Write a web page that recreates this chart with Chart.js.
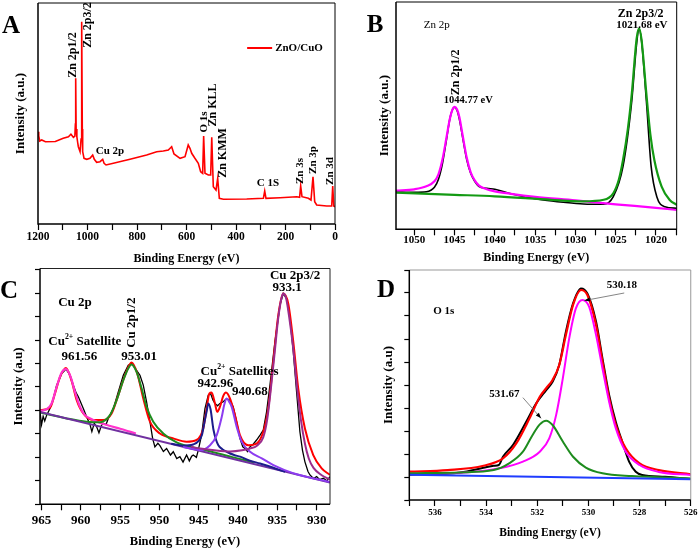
<!DOCTYPE html>
<html>
<head>
<meta charset="utf-8">
<script src="https://cdn.jsdelivr.net/npm/chart.js@4.4.1/dist/chart.umd.min.js"></script>
<style>
  body { margin: 0; background: #fff; }
  #wrap { position: relative; width: 700px; height: 550px; overflow: hidden; }
  canvas { position: absolute; }
</style>
</head>
<body>
<div id="wrap">
  <canvas id="panelA" width="350" height="275" style="left:0;top:0"></canvas>
  <canvas id="panelB" width="350" height="275" style="left:350px;top:0"></canvas>
  <canvas id="panelC" width="350" height="288" style="left:0;top:262px"></canvas>
  <canvas id="panelD" width="350" height="288" style="left:350px;top:262px"></canvas>
</div>
<script>
// ---- A: survey spectrum
const aEnergy = [1200, 1197, 1193, 1185, 1170, 1130, 1098, 1077, 1067, 1057, 1051, 1049, 1047.7, 1046, 1043, 1040, 1037, 1030, 1026, 1023.5,
  1021, 1019.5, 1014, 1003, 990, 979, 972.5, 963, 949.5, 938.6, 933, 925, 895.6, 828.3, 761, 720.4, 693.7, 673.5, 660, 650.5,
  626, 606, 593, 586, 579, 566, 552.3, 542.8, 534.7, 530.7, 525.3, 511.8, 502.3, 498, 491.7, 480.8, 474, 467.4, 451, 356.7,
  289.4, 284, 278.8, 222, 154.7, 143, 138.7, 133.4, 107.8, 97, 88.9, 82, 74, 33.5, 13.3, 9.2, 5, 0];
const aCounts = [92.3, 88, 83, 84, 82.3, 82.5, 85.7, 87.3, 89.7, 86.7, 88, 100, 145.7, 95, 87.3, 82, 77.3, 72.3, 85, 202.3,
  95, 72.3, 65.7, 64.7, 65.7, 69, 64.7, 61.7, 62.3, 64.7, 60.7, 59, 60.7, 64.7, 69, 72.3, 73, 74, 77.3, 70,
  65.7, 67.3, 79, 75.7, 70.7, 65.7, 60.7, 52.3, 50.7, 88, 50.7, 49, 49, 86.7, 37.3, 34, 45.7, 25.7, 24.7, 25,
  25.7, 33, 25.7, 26.3, 27.3, 26.7, 38, 27.3, 25.7, 24, 47.3, 22.3, 19, 18, 18, 38, 18, 17.3];

// ---- B: Zn 2p
const bDataE = [1052.27, 1050, 1048.5, 1047.5, 1047, 1046.5, 1046, 1045.6, 1045.3, 1045, 1044.7, 1044.4, 1044, 1043.5, 1043, 1042.5, 1042, 1041,
  1040, 1038, 1036, 1034, 1031.5, 1029, 1026.5, 1025.3, 1024.1, 1023, 1022.4, 1022.1, 1021.8, 1021.2, 1020.6, 1019.9, 1018.9, 1017.4];
const bDataI = [37.6, 37, 37.5, 42, 50, 66, 90, 110, 119, 122, 119, 110, 92, 70, 56, 48, 43, 41,
  40, 35.5, 32, 29.3, 27, 25.3, 25, 32.6, 62.6, 129, 186, 200, 189, 129, 62.6, 32.6, 22.6, 21];
const bP1E = [1052.27, 1050, 1048.5, 1047.5, 1047, 1046.5, 1046, 1045.6, 1045.3, 1045, 1044.7, 1044.4, 1044, 1043.5, 1043, 1042.5, 1042, 1041,
  1040, 1038, 1035, 1030, 1025, 1020, 1017.4];
const bP1I = [38.6, 40, 43, 48, 55, 70, 92, 110, 119, 122.5, 120, 112, 94, 72, 57, 49, 44, 40,
  38, 35.5, 32.5, 29, 25, 21.5, 19.3];
const bP2E = [1052.27, 1045, 1040, 1033, 1029, 1026.5, 1025.3, 1024.6, 1024.1, 1023.5, 1023, 1022.4, 1022.1, 1021.8, 1021.2, 1020.7, 1020.2,
  1019.3, 1018.3, 1017.4];
const bP2I = [36.6, 34.5, 33, 29.5, 28, 29.5, 36, 50, 69, 100, 136, 191, 201, 190, 136, 95, 69, 42.6, 29.3, 24.3];

// ---- C: Cu 2p
const cDataE = [965.2, 965.0, 964.8, 964.6, 964.35, 963.93, 963.5, 963.08, 962.7, 962.44, 961.89, 961.38, 960.96, 960.6, 960.32, 959.69, 959.18,
  958.84, 958.6, 958.3, 957.99, 957.7, 957.4, 957.15, 956.8, 956.51, 955.87, 955.24, 954.6, 953.97, 953.54, 952.91, 952.48, 952.06, 951.64,
  951.21, 950.87, 950.58, 950.2, 949.94, 949.5, 949.09, 948.6, 948.24, 947.8, 947.4, 947.0, 946.55, 946.2, 945.9, 945.7, 945.3, 945.06,
  944.64, 944.21, 943.79, 943.49, 943.2, 942.94, 942.6, 942.31, 941.88, 941.46, 941.03, 940.61, 940.18, 939.76, 939.4, 939.12, 938.8,
  938.49, 938.1, 937.64, 937.2, 936.79, 936.37, 935.94, 935.31, 934.67, 934.25, 933.82, 933.4, 932.97, 932.55, 932.13, 931.8, 931.49,
  931.1, 930.85, 930.4, 930.0, 929.6, 929.15, 928.7, 928.3];
const cDataI = [3.94, 3.40, 3.75, 3.55, 3.80, 4.08, 4.51, 5.08, 5.35, 5.57, 5.76, 5.50, 5.08, 4.75, 4.58, 4.08, 3.66,
  3.40, 3.10, 3.45, 3.30, 3.05, 3.35, 3.45, 3.40, 3.66, 4.08, 4.79, 5.50, 5.93, 6.00, 5.71, 5.50, 5.08, 4.37,
  3.52, 2.81, 2.45, 2.60, 2.50, 2.25, 2.38, 2.10, 2.24, 1.95, 2.03, 1.80, 2.10, 1.85, 2.05, 2.10, 2.00, 2.31,
  2.95, 4.08, 4.65, 4.72, 4.45, 4.30, 4.20, 4.30, 4.37, 4.51, 4.44, 4.15, 3.52, 2.81, 2.45, 2.38, 2.25,
  2.45, 2.55, 2.74, 2.95, 3.16, 3.94, 5.08, 6.92, 8.48, 8.98, 8.76, 7.91, 6.49, 4.79, 3.09, 2.30, 1.81,
  1.40, 1.25, 1.10, 1.18, 1.05, 1.11, 1.00, 1.18];
const cEnvE = [965.2, 963.93, 963.29, 962.65, 961.89, 961.17, 960.53, 959.69, 958.42, 957.15, 956.09, 955.24, 954.39, 953.54, 952.82, 952.06,
  951.21, 949.94, 948.24, 946.55, 945.28, 944.43, 944.0, 943.66, 943.37, 942.94, 942.65, 942.31, 941.88, 941.54, 941.03, 940.39, 939.76,
  938.7, 937.64, 936.79, 936.16, 935.52, 934.88, 934.25, 933.61, 932.97, 932.34, 931.49, 930.43, 929.36, 928.3];
const cEnvI = [4.01, 4.11, 4.72, 5.43, 5.81, 5.25, 4.44, 3.87, 3.59, 3.59, 3.87, 4.65, 5.50, 6.04, 5.57, 4.51,
  3.52, 3.02, 2.81, 2.67, 2.74, 3.23, 4.08, 4.72, 4.76, 4.30, 3.94, 4.15, 4.62, 4.76, 4.51, 3.80, 2.95,
  2.52, 2.59, 3.09, 4.08, 6.07, 8.06, 8.98, 8.55, 6.92, 4.93, 3.23, 2.10, 1.53, 1.25];
const cSatAE = [965.2, 964.35, 963.72, 963.08, 962.44, 961.89, 961.3, 960.75, 960.11, 959.48, 958.63, 957.78, 956.5, 955, 953];
const cSatAI = [3.97, 4.06, 4.30, 5.01, 5.62, 5.76, 5.43, 4.79, 4.15, 3.80, 3.63, 3.50, 3.36, 3.22, 3.02];
const cP12E = [965.2, 961.8, 959.27, 957.57, 956.3, 955.45, 954.6, 953.97, 953.54, 952.91, 952.27, 951.64, 950.79, 949.52, 947.82, 945.7,
  943.15, 940.61, 938];
const cP12I = [3.91, 3.66, 3.52, 3.50, 3.80, 4.44, 5.29, 5.79, 5.96, 5.64, 4.94, 4.15, 3.52, 3.02, 2.64, 2.42, 2.22, 2.00, 1.78];
const cSatBE = [948.5, 947.0, 945.7, 945.0, 944.6, 944.3, 944.0, 943.78, 943.5, 943.14, 942.8, 942.51, 942.0, 941.44, 940.5, 939.75, 938.5,
  937.2, 935.5, 934];
const cSatBI = [2.58, 2.50, 2.55, 2.70, 2.95, 3.45, 3.95, 4.30, 4.05, 3.20, 2.75, 2.52, 2.35, 2.24, 2.10, 2.03, 1.86, 1.74, 1.56, 1.38];
const cSatCE = [947, 945.5, 944.84, 943.56, 942.71, 942.07, 941.75, 941.44, 941.1, 940.81, 940.17, 939.53, 938.47, 936.98, 935.5, 933, 928.3];
const cSatCI = [2.44, 2.35, 2.31, 2.52, 2.95, 3.73, 4.25, 4.51, 4.35, 4.15, 3.30, 2.66, 2.24, 1.96, 1.67, 1.33, 0.95];
const cP32E = [946, 944.8, 943, 941, 939.5, 938.5, 937.6, 936.8, 936.3, 935.8, 935.3, 934.9, 934.5, 934.25, 933.9, 933.5, 933.0, 932.5,
  932.0, 931.5, 931.0, 930.4, 929.4, 928.3];
const cP32I = [2.45, 2.38, 2.30, 2.25, 2.30, 2.38, 2.50, 2.85, 3.6, 5.0, 6.6, 7.9, 8.75, 8.98, 8.8, 8.0, 6.7, 5.0,
  3.6, 2.6, 1.95, 1.55, 1.25, 1.05];
const cBaseE = [965.2, 928.3];
const cBaseI = [3.94, 0.93];

// ---- D: O 1s
const dDataE = [537, 535, 534.1, 533.7, 533.5, 533.34, 532.95, 532.43, 532.04, 531.65, 531.4, 531.14, 530.88, 530.6, 530.29, 530.04,
  529.7, 529.45, 529.19, 528.93, 528.68, 528.41, 528.15, 527.9, 527, 526];
const dDataI = [1.1, 1.2, 1.4, 1.49, 1.52, 1.88, 2.39, 3.4, 4.2, 4.78, 5.14, 5.87, 7.32, 8.55, 9.2, 8.98,
  7.75, 6.16, 4.57, 3.4, 2.54, 1.67, 1.23, 1.09, 1.01, 0.91];
const dEnvE = [537, 535.5, 534.1, 533.34, 532.82, 532.3, 531.9, 531.65, 531.4, 531.14, 530.88, 530.6, 530.29, 530.04, 529.7, 529.45,
  529.19, 528.93, 528.54, 528.0, 527.25, 526];
const dEnvI = [1.23, 1.3, 1.49, 1.81, 2.46, 3.55, 4.49, 4.86, 5.22, 5.87, 7.17, 8.48, 9.13, 8.91, 7.6, 6.01,
  4.42, 3.26, 2.25, 1.59, 1.30, 1.12];
const dLatE = [537, 535, 533.47, 532.56, 531.9, 531.53, 531.26, 531.0, 530.75, 530.49, 530.23, 529.97, 529.7, 529.45, 529.19, 528.93,
  528.54, 528.0, 527.25, 526];
const dLatI = [1.13, 1.18, 1.38, 1.67, 2.1, 2.68, 3.7, 5.29, 7.03, 8.33, 8.7, 8.4, 7.17, 5.72, 4.27, 3.12, 2.1, 1.52, 1.22, 1.09];
const dOhE = [537, 535, 533.7, 533.1, 532.56, 532.18, 531.9, 531.65, 531.4, 531.0, 530.6, 530.1, 529.45, 528.3, 526];
const dOhI = [1.16, 1.2, 1.30, 1.59, 2.1, 2.83, 3.29, 3.45, 3.26, 2.54, 1.88, 1.41, 1.16, 1.04, 0.94];
const dBaseE = [537, 526];
const dBaseI = [1.1, 0.9];

const SERIF = '"Liberation Serif", "Times New Roman", serif';
Chart.defaults.font.family = SERIF;
Chart.defaults.color = '#000';

const pts = (xs, ys) => xs.map((x, i) => ({ x, y: ys[i] }));

function line(xs, ys, color, width, order, smooth) {
  return {
    data: pts(xs, ys), borderColor: color, borderWidth: width, order,
    pointRadius: 0, fill: false,
    cubicInterpolationMode: smooth ? 'monotone' : 'default', tension: 0
  };
}

function drawLabel(ctx, sx, sy, t) {
  const font = s => (t.normal ? '' : 'bold ') + s + 'px ' + SERIF;
  ctx.save();
  ctx.translate(sx.getPixelForValue(t.x), sy.getPixelForValue(t.y));
  if (t.rot) ctx.rotate(-Math.PI / 2);
  ctx.textBaseline = 'middle';
  ctx.textAlign = 'left';
  const parts = [[t.text, t.size, 0]];
  if (t.sup) parts.push([t.sup, t.size * 0.6, -t.size * 0.38], [t.after, t.size, 0]);
  let w = 0;
  parts.forEach(p => { ctx.font = font(p[1]); p.push(ctx.measureText(p[0]).width); w += p[3]; });
  let cx = -w / 2;
  parts.forEach(p => { ctx.font = font(p[1]); ctx.fillText(p[0], cx, p[2]); cx += p[3]; });
  ctx.restore();
}

const annot = {
  id: 'annot',
  afterDraw(chart, args, opts) {
    const { ctx, chartArea: a } = chart;
    const sx = chart.scales.x, sy = chart.scales.y;
    ctx.save();
    ctx.lineWidth = 1;
    ctx.strokeStyle = opts.frameColor;
    ctx.beginPath();
    ctx.moveTo(a.left, a.top); ctx.lineTo(a.right, a.top); ctx.lineTo(a.right, a.bottom);
    ctx.stroke();
    ctx.lineWidth = 1.5;
    ctx.strokeStyle = '#000';
    ctx.beginPath();
    ctx.moveTo(a.left, a.top); ctx.lineTo(a.left, a.bottom); ctx.lineTo(a.right, a.bottom);
    ctx.stroke();

    ctx.fillStyle = '#000';
    ctx.font = 'bold 25px ' + SERIF;
    ctx.textAlign = 'center';
    ctx.textBaseline = 'middle';
    ctx.fillText(opts.letter[0], opts.letter[1], opts.letter[2]);

    (opts.labels || []).forEach(t => drawLabel(ctx, sx, sy, t));

    (opts.arrows || []).forEach(r => {
      const x1 = sx.getPixelForValue(r.x1), y1 = sy.getPixelForValue(r.y1);
      const x2 = sx.getPixelForValue(r.x2), y2 = sy.getPixelForValue(r.y2);
      const ang = Math.atan2(y2 - y1, x2 - x1);
      ctx.strokeStyle = '#666';
      ctx.lineWidth = 0.8;
      ctx.beginPath(); ctx.moveTo(x1, y1); ctx.lineTo(x2, y2); ctx.stroke();
      ctx.fillStyle = '#000';
      ctx.beginPath();
      ctx.moveTo(x2, y2);
      ctx.lineTo(x2 - 6 * Math.cos(ang - 0.35), y2 - 6 * Math.sin(ang - 0.35));
      ctx.lineTo(x2 - 6 * Math.cos(ang + 0.35), y2 - 6 * Math.sin(ang + 0.35));
      ctx.closePath(); ctx.fill();
    });

    if (opts.legend) {
      const g = opts.legend;
      const x1 = sx.getPixelForValue(g.x1), x2 = sx.getPixelForValue(g.x2), y = sy.getPixelForValue(g.y);
      ctx.strokeStyle = g.color; ctx.lineWidth = 2;
      ctx.beginPath(); ctx.moveTo(x1, y); ctx.lineTo(x2, y); ctx.stroke();
      ctx.fillStyle = '#000';
      ctx.font = 'bold 11px ' + SERIF;
      ctx.textAlign = 'left';
      ctx.fillText(g.text, x2 + 3, y);
    }
    ctx.restore();
  }
};

function xAxis(min, max, step, labelStep, tickSize, tickPad, titleSize, titlePad, height) {
  return {
    type: 'linear', reverse: true, min, max,
    afterFit: s => { s.height = height; },
    border: { display: false },
    grid: { drawOnChartArea: false, drawTicks: true, tickLength: 6, tickColor: '#000', tickWidth: 1.2 },
    ticks: {
      stepSize: step, autoSkip: false, maxRotation: 0, includeBounds: false, padding: tickPad,
      font: { size: tickSize, weight: 'bold', lineHeight: 1 },
      callback: v => {
        const r = Math.round(v * 100) / 100;
        return Math.abs(r / labelStep - Math.round(r / labelStep)) < 1e-6 ? String(r) : '';
      }
    },
    title: { display: true, text: 'Binding Energy (eV)', font: { size: titleSize, weight: 'bold', lineHeight: 1 }, padding: { top: 0, bottom: titlePad } }
  };
}

function yAxis(max, width, text, titlePad, showTicks) {
  return {
    type: 'linear', min: 0, max,
    afterFit: s => { s.width = width; },
    border: { display: false },
    grid: { display: showTicks, drawOnChartArea: false, drawTicks: true, tickLength: 5, tickColor: '#000', tickWidth: 1.2 },
    ticks: { display: false, stepSize: 1, includeBounds: false },
    title: { display: true, text, font: { size: 13, weight: 'bold', lineHeight: 1 }, padding: { top: titlePad, bottom: 0 } }
  };
}

const common = {
  responsive: false, animation: false,
  plugins: { legend: { display: false }, tooltip: { enabled: false } }
};

new Chart(document.getElementById('panelA'), {
  type: 'line',
  data: { datasets: [line(aEnergy, aCounts, '#ff0000', 1.6, 0, false)] },
  options: {
    ...common,
    layout: { padding: { left: 0, right: 15, top: 3, bottom: 0 } },
    scales: {
      x: xAxis(0, 1200, 100, 200, 11.5, 1.3, 12, 10.3, 51),
      y: yAxis(221, 38, 'Intensity (a.u.)', 14, false)
    },
    plugins: {
      ...common.plugins,
      annot: {
        frameColor: '#000', letter: ['A', 11, 27],
        legend: { x1: 355, x2: 254, y: 176, color: '#ff0000', text: 'ZnO/CuO' },
        labels: [
          { x: 1058.6, y: 169, text: 'Zn 2p1/2', size: 12, rot: true },
          { x: 1000, y: 199, text: 'Zn 2p3/2', size: 12, rot: true },
          { x: 909, y: 73, text: 'Cu 2p', size: 11 },
          { x: 529, y: 102, text: 'O 1s', size: 11, rot: true },
          { x: 493, y: 119, text: 'Zn KLL', size: 12, rot: true },
          { x: 452.5, y: 71, text: 'Zn KMM', size: 12, rot: true },
          { x: 271, y: 41, text: 'C 1S', size: 11 },
          { x: 141.4, y: 53, text: 'Zn 3s', size: 11, rot: true },
          { x: 89, y: 64, text: 'Zn 3p', size: 11, rot: true },
          { x: 20, y: 53, text: 'Zn 3d', size: 11, rot: true }
        ]
      }
    }
  },
  plugins: [annot]
});

new Chart(document.getElementById('panelB'), {
  type: 'line',
  data: {
    datasets: [
      line(bP2E, bP2I, '#139a13', 2.2, 0, true),
      line(bP1E, bP1I, '#ff00ff', 2.2, 1, true),
      line(bDataE, bDataI, '#000000', 1.6, 2, true)
    ]
  },
  options: {
    ...common,
    layout: { padding: { left: 0, right: 23.3, top: 2, bottom: 0 } },
    scales: {
      x: xAxis(1017.43, 1052.27, 2.5, 5, 11, -1, 12, 10.7, 45.7),
      y: yAxis(227.3, 46, 'Intensity (a.u.)', 27.8, false)
    },
    plugins: {
      ...common.plugins,
      annot: {
        frameColor: '#000', letter: ['B', 25, 26],
        labels: [
          { x: 1047.2, y: 204, text: 'Zn 2p', size: 11, normal: true },
          { x: 1044.8, y: 157, text: 'Zn 2p1/2', size: 12, rot: true },
          { x: 1043.3, y: 129, text: '1044.77 eV', size: 10.5 },
          { x: 1021.9, y: 215, text: 'Zn 2p3/2', size: 12 },
          { x: 1021.75, y: 204, text: '1021.68 eV', size: 11 }
        ]
      }
    }
  },
  plugins: [annot]
});

new Chart(document.getElementById('panelC'), {
  type: 'line',
  data: {
    datasets: [
      line(cP32E, cP32I, '#9b2b8c', 2, 0, true),
      line(cSatCE, cSatCI, '#8c3cf0', 2, 1, true),
      line(cSatBE, cSatBI, '#1c1c8c', 2, 2, true),
      line(cBaseE, cBaseI, '#7030a0', 2, 3, false),
      line(cP12E, cP12I, '#1e8c1e', 2, 4, true),
      line(cSatAE, cSatAI, '#ff33cc', 2.2, 5, true),
      line(cEnvE, cEnvI, '#ff0000', 2, 6, true),
      line(cDataE, cDataI, '#000000', 1.3, 7, false)
    ]
  },
  options: {
    ...common,
    layout: { padding: { left: 0, right: 20, top: 6.5, bottom: 0 } },
    scales: {
      x: xAxis(928.3, 965.2, 2.5, 5, 13, 3.7, 12.5, 2, 45.7),
      y: yAxis(10.05, 40, 'Intensity (a.u)', 12.2, true)
    },
    plugins: {
      ...common.plugins,
      annot: {
        frameColor: '#222', letter: ['C', 9, 30],
        labels: [
          { x: 960.75, y: 8.58, text: 'Cu 2p', size: 13 },
          { x: 959.5, y: 6.92, text: 'Cu', sup: '2+', after: ' Satellite', size: 13 },
          { x: 960.2, y: 6.28, text: '961.56', size: 13 },
          { x: 953.5, y: 7.74, text: 'Cu 2p1/2', size: 13, rot: true },
          { x: 952.6, y: 6.28, text: '953.01', size: 13 },
          { x: 939.8, y: 5.64, text: 'Cu', sup: '2+', after: ' Satellites', size: 13 },
          { x: 942.9, y: 5.15, text: '942.96', size: 13 },
          { x: 938.5, y: 4.79, text: '940.68', size: 13 },
          { x: 932.75, y: 9.76, text: 'Cu 2p3/2', size: 13 },
          { x: 933.76, y: 9.25, text: '933.1', size: 13 }
        ]
      }
    }
  },
  plugins: [annot]
});

new Chart(document.getElementById('panelD'), {
  type: 'line',
  data: {
    datasets: [
      line(dBaseE, dBaseI, '#1f3cff', 2, 0, false),
      line(dOhE, dOhI, '#1e8c1e', 2, 1, true),
      line(dLatE, dLatI, '#ff00ff', 2, 2, true),
      line(dEnvE, dEnvI, '#ff0000', 2.2, 3, true),
      line(dDataE, dDataI, '#000000', 2, 4, true)
    ]
  },
  options: {
    ...common,
    layout: { padding: { left: 0, right: 8.3, top: 8, bottom: 0 } },
    scales: {
      x: xAxis(526, 537, 1, 2, 9, 2.5, 11.5, 11, 50),
      y: yAxis(10, 59.3, 'Intensity (a.u)', 31.8, true)
    },
    plugins: {
      ...common.plugins,
      annot: {
        frameColor: '#999', letter: ['D', 36, 29],
        labels: [
          { x: 535.65, y: 8.22, text: 'O 1s', size: 11 },
          { x: 528.69, y: 9.35, text: '530.18', size: 11 },
          { x: 533.28, y: 4.61, text: '531.67', size: 11 }
        ],
        arrows: [
          { x1: 528.6, y1: 9.0, x2: 530.16, y2: 8.67 },
          { x1: 532.56, y1: 4.45, x2: 531.85, y2: 3.55 }
        ]
      }
    }
  },
  plugins: [annot]
});
</script>
</body>
</html>
